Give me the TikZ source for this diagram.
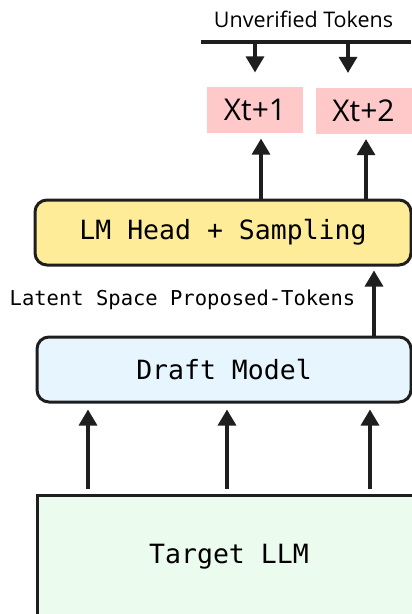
\documentclass[tikz,border=0pt]{standalone}
\usepackage{fontspec}
\setsansfont{Open Sans}
\setmonofont{DejaVu Sans Mono}
\usetikzlibrary{arrows.meta, positioning}
\definecolor{headyellow}{HTML}{FFEC99}
\definecolor{draftblue}{HTML}{E7F5FF}
\definecolor{targetgreen}{HTML}{EBFBEE}
\definecolor{tokenpink}{HTML}{FFC9C9}
\definecolor{ink}{HTML}{1E1E1E}

\begin{document}
\begin{tikzpicture}[x=1pt, y=-1pt, >={Triangle[width=18pt,length=16pt]}, line width=3.2pt, draw=ink,
    block/.style={draw=ink, line width=3pt, rounded corners=12pt, minimum height=65pt,
        font=\ttfamily\fontsize{26.5}{28}\selectfont},
    token/.style={fill=tokenpink, minimum width=96pt, minimum height=46pt,
        font=\sffamily\fontsize{30}{32}\selectfont}]
        \useasboundingbox (0,0) rectangle (412,614);
        % boxes
        \node[block, fill=headyellow, minimum width=376pt] (head) at (223,232.5) {LM Head + Sampling};
        \node[block, fill=draftblue, minimum width=374pt] (draft) at (224,369.5) {Draft Model};
        \node[draw=ink, line width=3pt, fill=targetgreen, minimum width=384pt, minimum height=124pt,
            font=\ttfamily\fontsize{26.5}{28}\selectfont] (target) at (229,557) {Target LLM};
        \node[token] (X1) at (255,110) {Xt+1};
        \node[token] (X2) at (363.5,110.5) {Xt+2};
        % unverified tokens
        \coordinate (ll) at (201,42);
        \coordinate (lr) at (411,42);
        \draw[ink] (ll) -- (lr);
        \node[font=\sffamily\fontsize{21.5}{23}\selectfont] (unv) at (303.5,19) {Unverified Tokens};
        \coordinate (d1) at (255,42);
        \coordinate (d2) at (348,42);
        \draw[ink, ->, shorten >=13pt] (d1) -- (d1 |- X1.north);
        \draw[ink, ->, shorten >=13pt] (d2) -- (d2 |- X2.north);
        % sampling
        \draw[ink, ->, shorten >=4pt] ([xshift=6pt]X1.south |- head.north) -- ([xshift=6pt]X1.south);
        \draw[ink, ->, shorten >=4pt] ([xshift=2.5pt]X2.south |- head.north) -- ([xshift=2.5pt]X2.south);
        % latent proposals
        \node[font=\ttfamily\fontsize{20.5}{22}\selectfont] (latent) at (182.5,300) {Latent Space Proposed-Tokens};
        \draw[ink, ->, shorten >=4pt] ([xshift=150pt]draft.north) -- ([xshift=150pt]draft.north |- head.south);
        \foreach \dx in {-141,-2,141}
            \draw[ink, ->, shorten <=5pt, shorten >=6pt] ([xshift=\dx pt]target.north) -- ([xshift=\dx pt]target.north |- draft.south);
    \end{tikzpicture}
\end{document}
